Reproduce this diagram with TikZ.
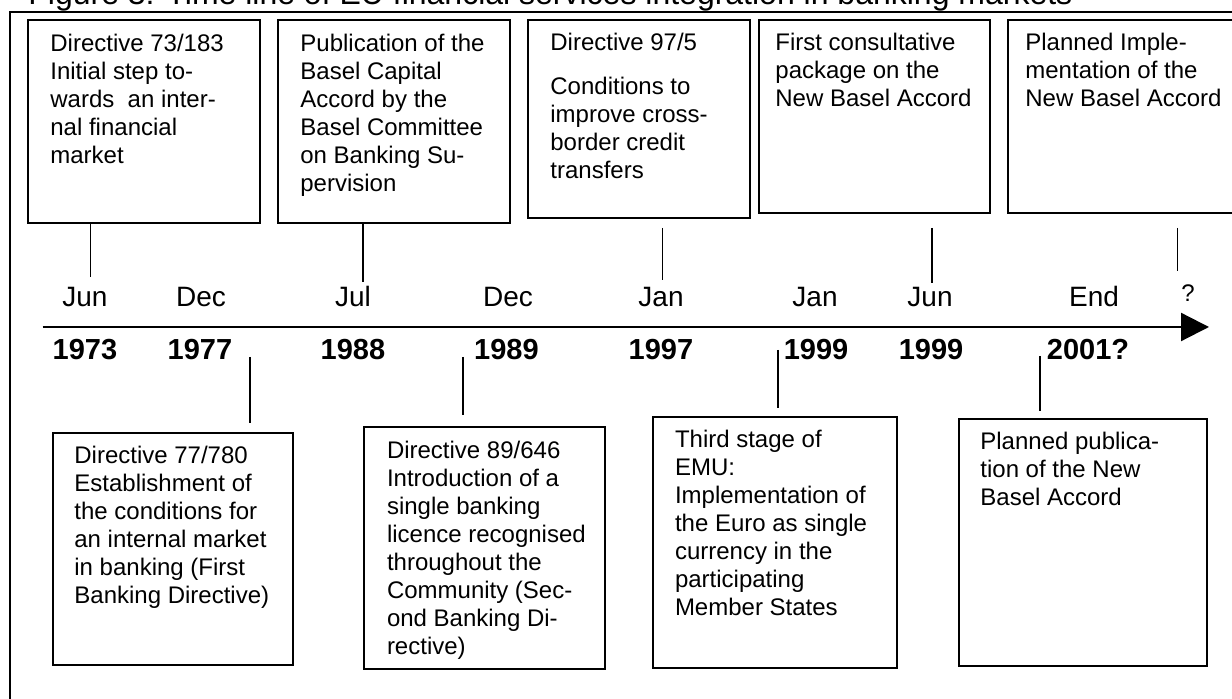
\documentclass[tikz,border=0pt]{standalone}
\usepackage{fontspec}
\setmainfont{Liberation Sans}
\usetikzlibrary{arrows.meta,positioning,calc}
\tikzset{
	boite/.style={line width=1pt},
	texte/.style={anchor=north west,inner sep=0pt,align=left,font=\fontsize{12}{14}\selectfont,execute at begin node=\strut},
	mois/.style={anchor=base,inner sep=0pt,font=\fontsize{14}{16}\selectfont},
	annee/.style={anchor=base,inner sep=0pt,font=\fontsize{14.5}{16}\selectfont\bfseries},
	trait/.style={line width=0.75pt}
}

\begin{document}
\begin{tikzpicture}[x=0.5pt,y=-0.5pt]
	\def\axe{327};
	\def\moisy{307};
	\def\anneey{360};
\useasboundingbox (0,0) rectangle (1232,699); % taille de l'image

%Titre et cadre
\node[anchor=base west,inner sep=0pt,font=\fontsize{16}{18}\selectfont] (titre) at (28,5) {Figure 3: Time line of EU financial services integration in banking markets};
\draw[line width=1pt] (10,720) -- (10,12) -- (1260,12);

%Boites du haut
\draw[boite] (28,20) rectangle (260,223);
\draw[boite] (278,20) rectangle (510,223);
\draw[boite] (528,20) rectangle (750,218);
\draw[boite] (759,20) rectangle (990,213);
\draw[boite] (1008,20) rectangle (1260,213);

\node[texte] (d7383) at (50,33.5) {Directive 73/183\\Initial step to-\\wards~ an inter-\\nal financial\\market};
\node[texte] (bale88) at (300,33.5) {Publication of the\\Basel Capital\\Accord by the\\Basel Committee\\on Banking Su-\\pervision};
\node[texte] (d975) at (550,32.7) {Directive 97/5\\[8pt]Conditions to\\improve cross-\\border credit\\transfers};
\node[texte] (cp99) at (775,32.5) {First consultative\\package on the\\New Basel Accord};
\node[texte] (impl) at (1025,32.5) {Planned Imple-\\mentation of the\\New Basel Accord};

%Boites du bas
\draw[boite] (53,433) rectangle (293,665);
\draw[boite] (364,427) rectangle (605,669);
\draw[boite] (653,417) rectangle (897,668);
\draw[boite] (959,419) rectangle (1207,666);

\node[texte] (d77780) at (74,445.4) {Directive 77/780\\Establishment of\\the conditions for\\an internal market\\in banking (First\\Banking Directive)};
\node[texte] (d89646) at (386.6,440.4) {Directive 89/646\\Introduction of a\\single banking\\licence recognised\\throughout the\\Community (Sec-\\ond Banking Di-\\rective)};
\node[texte] (emu) at (674.6,429.4) {Third stage of\\EMU:\\Implementation of\\the Euro as single\\currency in the\\participating\\Member States};
\node[texte] (publ) at (980,432) {Planned publica-\\tion of the New\\Basel Accord};

%Axe du temps
\coordinate (debut) at (42.7,\axe);
\coordinate (fin) at (1209,\axe);
\draw[line width=1.1pt,-{Triangle[length=14pt,width=14pt]}] (debut) -- (fin);

%Mois
\node[mois] (jun73) at (85,\moisy) {Jun};
\node[mois] (dec77) at (201,\moisy) {Dec};
\node[mois] (jul88) at (353,\moisy) {Jul};
\node[mois] (dec89) at (508,\moisy) {Dec};
\node[mois] (jan97) at (661,\moisy) {Jan};
\node[mois] (jan99) at (815,\moisy) {Jan};
\node[mois] (jun99) at (930,\moisy) {Jun};
\node[mois] (end01) at (1094,\moisy) {End};
\node[anchor=base,inner sep=0pt,font=\fontsize{12}{14}\selectfont] (qm) at (1188,302) {?};

%Annees
\node[annee] (a73) at (85,\anneey) {1973};
\node[annee] (a77) at (200,\anneey) {1977};
\node[annee] (a88) at (353,\anneey) {1988};
\node[annee] (a89) at (506.5,\anneey) {1989};
\node[annee] (a97) at (661,\anneey) {1997};
\node[annee] (a99) at (816,\anneey) {1999};
\node[annee] (b99) at (931,\anneey) {1999};
\node[annee] (a01) at (1088,\anneey) {2001?};

%Traits vers les boites du haut
\coordinate (hA) at (90.7,223);  \coordinate (bA) at (90.7,277);
\coordinate (hB) at (363,223);   \coordinate (bB) at (363,282);
\coordinate (hC) at (662.5,228); \coordinate (bC) at (662.5,280);
\coordinate (hD) at (932,228);   \coordinate (bD) at (932,283);
\coordinate (hE) at (1177.5,228);\coordinate (bE) at (1177.5,271);
\draw[trait] (hA) -- (bA);
\draw[trait] (hB) -- (bB);
\draw[trait] (hC) -- (bC);
\draw[trait] (hD) -- (bD);
\draw[trait] (hE) -- (bE);

%Traits vers les boites du bas
\coordinate (hF) at (250,357); \coordinate (bF) at (250,423);
\coordinate (hG) at (463,357); \coordinate (bG) at (463,415);
\coordinate (hH) at (778,350); \coordinate (bH) at (778,408);
\coordinate (hI) at (1040,356);\coordinate (bI) at (1040,411);
\draw[trait] (hF) -- (bF);
\draw[trait] (hG) -- (bG);
\draw[trait] (hH) -- (bH);
\draw[trait] (hI) -- (bI);

\end{tikzpicture}
\end{document}
